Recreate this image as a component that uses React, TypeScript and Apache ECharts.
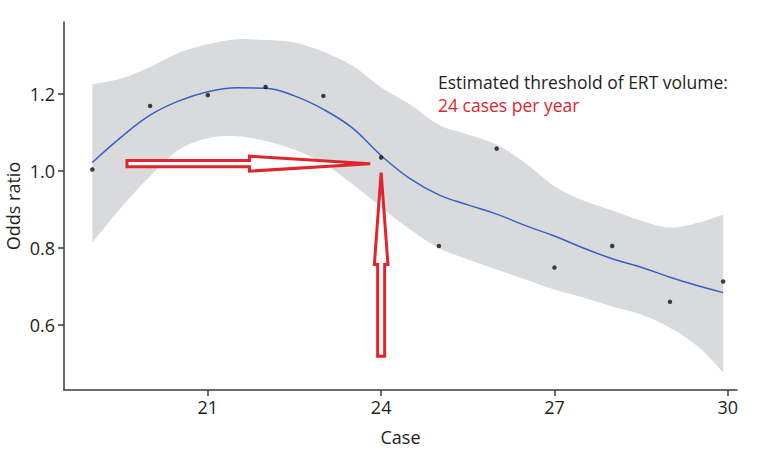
import React, { useEffect, useRef } from "react";
import * as echarts from "echarts";

// Observed data points (Case, Odds ratio)
const caseValues = [19, 20, 21, 22, 23, 24, 25, 26, 27, 28, 29, 29.92];
const oddsRatio = [1.004, 1.169, 1.197, 1.218, 1.195, 1.035, 0.805, 1.058, 0.749, 0.805, 0.66, 0.713];

// Smoothed fit and confidence band
const fitX = [19, 19.5, 20, 20.5, 21, 21.5, 22, 22.5, 23, 23.5, 24, 24.5, 25, 25.5, 26, 26.5, 27, 27.5, 28, 28.5, 29, 29.5, 29.92];
const fitY = [1.022, 1.088, 1.145, 1.182, 1.206, 1.216, 1.215, 1.195, 1.16, 1.112, 1.04, 0.98, 0.938, 0.912, 0.888, 0.858, 0.831, 0.8, 0.772, 0.75, 0.724, 0.701, 0.684];
const bandLow = [0.814, 0.905, 0.987, 1.055, 1.085, 1.09, 1.078, 1.055, 1.02, 0.966, 0.906, 0.848, 0.8, 0.77, 0.744, 0.718, 0.692, 0.671, 0.648, 0.627, 0.593, 0.542, 0.477];
const bandHigh = [1.225, 1.24, 1.27, 1.307, 1.329, 1.342, 1.34, 1.334, 1.31, 1.274, 1.217, 1.173, 1.12, 1.095, 1.069, 1.02, 0.96, 0.923, 0.897, 0.871, 0.853, 0.866, 0.887];

// Axis ticks
const xTicks = [21, 24, 27, 30];
const yTicks = [0.6, 0.8, 1.0, 1.2];

// Arrow anchors (data units)
const hArrowX = [19.6, 21.72, 23.81]; // tail, head start, tip
const hArrowY = 1.019;
const vArrowX = 24;
const vArrowY = [0.519, 0.757, 0.996]; // bottom, head start, tip

const annotationLine1 = "Estimated threshold of ERT volume:";
const annotationLine2 = "24 cases per year";

function curvePath(pts: number[][], moveFirst: boolean): string {
  // Catmull-Rom spline as cubic beziers through the given pixel points
  let d = (moveFirst ? "M" : "L") + pts[0][0].toFixed(2) + "," + pts[0][1].toFixed(2);
  const n = pts.length;
  for (let i = 0; i < n - 1; i++) {
    const p0 = pts[Math.max(0, i - 1)];
    const p1 = pts[i];
    const p2 = pts[i + 1];
    const p3 = pts[Math.min(n - 1, i + 2)];
    const c1x = p1[0] + (p2[0] - p0[0]) / 6;
    const c1y = p1[1] + (p2[1] - p0[1]) / 6;
    const c2x = p2[0] - (p3[0] - p1[0]) / 6;
    const c2y = p2[1] - (p3[1] - p1[1]) / 6;
    d += `C${c1x.toFixed(2)},${c1y.toFixed(2)} ${c2x.toFixed(2)},${c2y.toFixed(2)} ${p2[0].toFixed(2)},${p2[1].toFixed(2)}`;
  }
  return d;
}

export default function App() {
  const ref = useRef<HTMLDivElement>(null);

  useEffect(() => {
    if (!ref.current) return;
    const chart = echarts.init(ref.current, null, { renderer: "svg" });
    const font = "'Open Sans', sans-serif";
    const textColor = "#231f20";
    const axisColor = "#3a3a3a";
    const red = "#e0252d";

    chart.setOption({
      animation: false,
      backgroundColor: "#ffffff",
      grid: { left: 64, right: 33, top: 22, bottom: 70, containLabel: false, outerBoundsMode: "none" },
      xAxis: {
        type: "value",
        min: 18.51,
        max: 30.16,
        name: "Case",
        nameLocation: "middle",
        nameGap: 38,
        nameTextStyle: { fontFamily: font, fontSize: 18, color: textColor },
        axisLine: { show: true, lineStyle: { color: axisColor, width: 1.5 } },
        axisTick: { show: true, length: 6, customValues: xTicks, lineStyle: { color: axisColor, width: 1.5 } },
        axisLabel: { customValues: xTicks, margin: 8, fontFamily: font, fontSize: 18, color: textColor },
        splitLine: { show: false },
      },
      yAxis: {
        type: "value",
        min: 0.431,
        max: 1.387,
        name: "Odds ratio",
        nameLocation: "middle",
        nameGap: 42,
        nameMoveOverlap: false,
        nameTextStyle: { fontFamily: font, fontSize: 18, color: textColor },
        axisLine: { show: true, lineStyle: { color: axisColor, width: 1.5 } },
        axisTick: { show: true, length: 6, customValues: yTicks, lineStyle: { color: axisColor, width: 1.5 } },
        axisLabel: {
          customValues: yTicks,
          margin: 9,
          fontFamily: font,
          fontSize: 18,
          color: textColor,
          formatter: (v: number) => v.toFixed(1),
        },
        splitLine: { show: false },
      },
      series: [
        {
          type: "custom",
          data: [0],
          silent: true,
          z: 1,
          renderItem: (_params: any, api: any) => {
            const upper = fitX.map((x, i) => api.coord([x, bandHigh[i]]));
            const lower = fitX.map((x, i) => api.coord([x, bandLow[i]])).reverse();
            const d = curvePath(upper, true) + curvePath(lower, false) + "Z";
            return {
              type: "path",
              shape: { pathData: d },
              style: { fill: "#d9dadc", stroke: "none" },
            };
          },
        },
        {
          type: "line",
          data: fitX.map((x, i) => [x, fitY[i]]),
          symbol: "none",
          smooth: 0.4,
          lineStyle: { color: "#3561c4", width: 1.5 },
          z: 2,
        },
        {
          type: "scatter",
          data: caseValues.map((x, i) => [x, oddsRatio[i]]),
          symbolSize: 4.5,
          itemStyle: { color: "#111111" },
          z: 3,
        },
      ],
    });

    const p = (x: number, y: number) => chart.convertToPixel({ gridIndex: 0 }, [x, y]) as number[];
    const [tx, cy] = p(hArrowX[0], hArrowY);
    const [hx] = p(hArrowX[1], hArrowY);
    const [px] = p(hArrowX[2], hArrowY);
    const hPts = [
      [tx, cy - 3.2],
      [hx, cy - 3.2],
      [hx, cy - 7.5],
      [px, cy],
      [hx, cy + 7.5],
      [hx, cy + 3.2],
      [tx, cy + 3.2],
    ];
    const [vx, vb] = p(vArrowX, vArrowY[0]);
    const [, vh] = p(vArrowX, vArrowY[1]);
    const [, vt] = p(vArrowX, vArrowY[2]);
    const vPts = [
      [vx - 3.5, vb],
      [vx - 3.5, vh],
      [vx - 6.8, vh],
      [vx, vt],
      [vx + 6.8, vh],
      [vx + 3.5, vh],
      [vx + 3.5, vb],
    ];
    const arrowStyle = { fill: "#ffffff", stroke: red, lineWidth: 3, lineJoin: "miter", miterLimit: 4 };

    chart.setOption({
      graphic: [
        { type: "polygon", z: 10, shape: { points: hPts }, style: arrowStyle, silent: true },
        { type: "polygon", z: 10, shape: { points: vPts }, style: arrowStyle, silent: true },
        {
          type: "text",
          z: 10,
          x: 438,
          y: 82,
          style: { text: annotationLine1, font: `17.5px ${font}`, fill: textColor, align: "left", verticalAlign: "middle" },
        },
        {
          type: "text",
          z: 10,
          x: 438,
          y: 104.5,
          style: { text: annotationLine2, font: `17.5px ${font}`, fill: red, align: "left", verticalAlign: "middle" },
        },
      ],
    });

    return () => chart.dispose();
  }, []);

  return (
    <div
      ref={ref}
      style={{ position: "fixed", left: 0, top: 0, width: 770, height: 460, background: "#fff" }}
    />
  );
}
